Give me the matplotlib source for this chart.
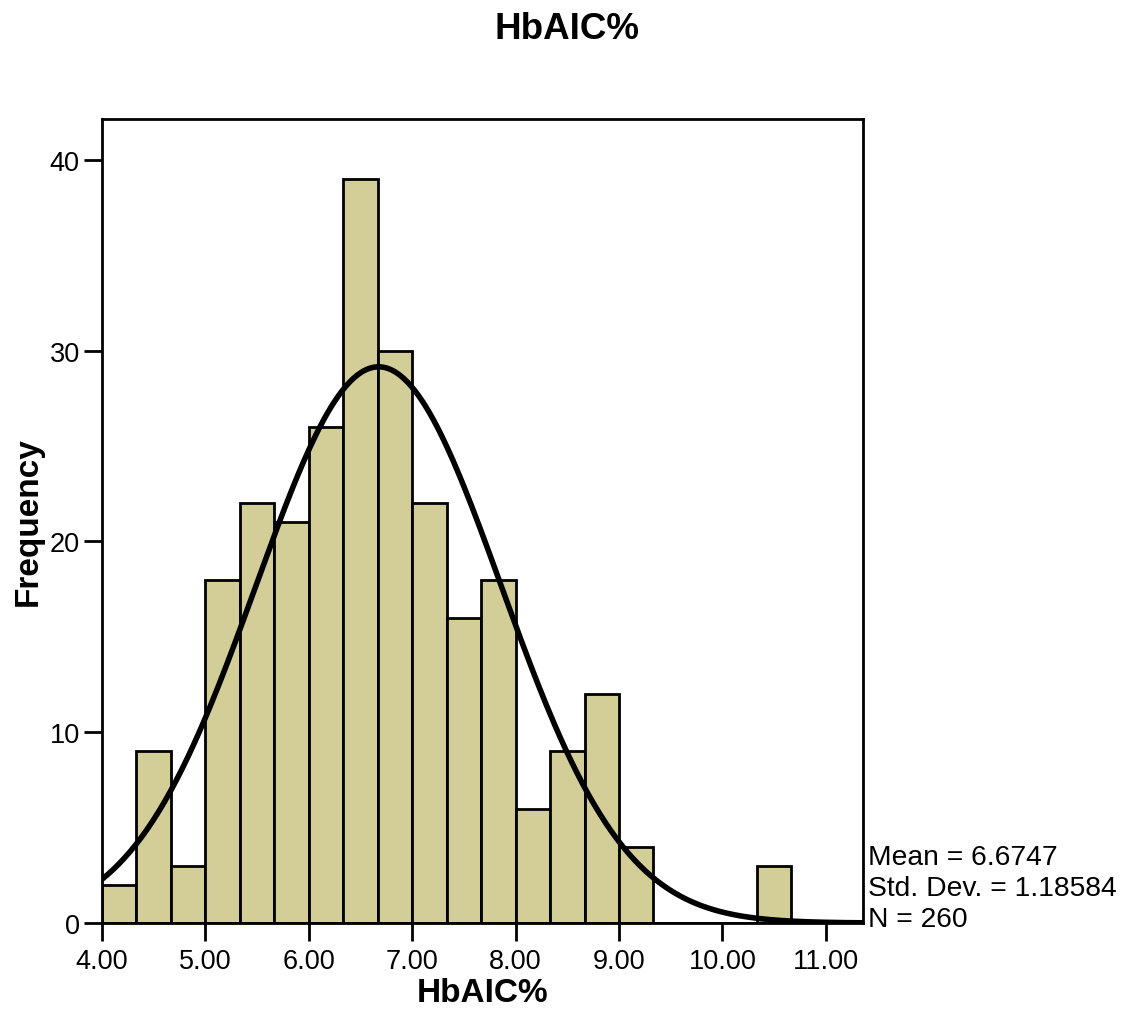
import numpy as np
import matplotlib
matplotlib.use("Agg")
import matplotlib.pyplot as plt

plt.rcParams['font.family'] = ['Liberation Sans', 'DejaVu Sans']

bin_edges_start = 4.0
bin_width = 1.0 / 3.0
counts = [2, 9, 3, 18, 22, 21, 26, 39, 30, 22, 16, 18, 6, 9, 12, 4, 0, 0, 0, 3]
mean = 6.6747
std = 1.18584
n = 260
xticks = [4.0, 5.0, 6.0, 7.0, 8.0, 9.0, 10.0, 11.0]
yticks = [0, 10, 20, 30, 40]

fig = plt.figure(figsize=(11.23, 10.20), dpi=100)
ax = fig.add_axes([0.0908, 0.0941, 0.6777, 0.7883])

lefts = bin_edges_start + bin_width * np.arange(len(counts))
ax.bar(lefts, counts, width=bin_width, align='edge', color='#D3CE98',
       edgecolor='black', linewidth=2.0, zorder=2)

xmin, xmax = 4.0, 11.36
xs = np.linspace(xmin, xmax, 400)
pdf = n * bin_width / (std * np.sqrt(2 * np.pi)) * np.exp(-0.5 * ((xs - mean) / std) ** 2)
ax.plot(xs, pdf, color='black', linewidth=4.0, zorder=3, solid_capstyle='butt')

ax.set_xlim(xmin, xmax)
ax.set_ylim(0, 42.15)
ax.set_xticks(xticks)
ax.set_xticklabels([f"{t:.2f}" for t in xticks])
ax.set_yticks(yticks)
ax.tick_params(axis='both', direction='out', length=13, width=2.0, labelsize=19.5)
ax.tick_params(axis='x', pad=5)
ax.tick_params(axis='y', pad=3)
ax.tick_params(top=False, right=False)
for s in ax.spines.values():
    s.set_linewidth(2.0)

ax.set_xlabel('HbAIC%', fontsize=24, fontweight='bold', labelpad=2)
ax.set_ylabel('Frequency', fontsize=24, fontweight='bold', labelpad=4)
fig.suptitle('HbAIC%', fontsize=26.5, fontweight='bold', x=0.505, y=0.988)

ax.text(1.006, -0.011, f"Mean = {mean}\nStd. Dev. = {std}\nN = {n}",
        transform=ax.transAxes, ha='left', va='bottom', fontsize=20.3,
        linespacing=1.25)

fig.savefig('out.png', dpi=100)
